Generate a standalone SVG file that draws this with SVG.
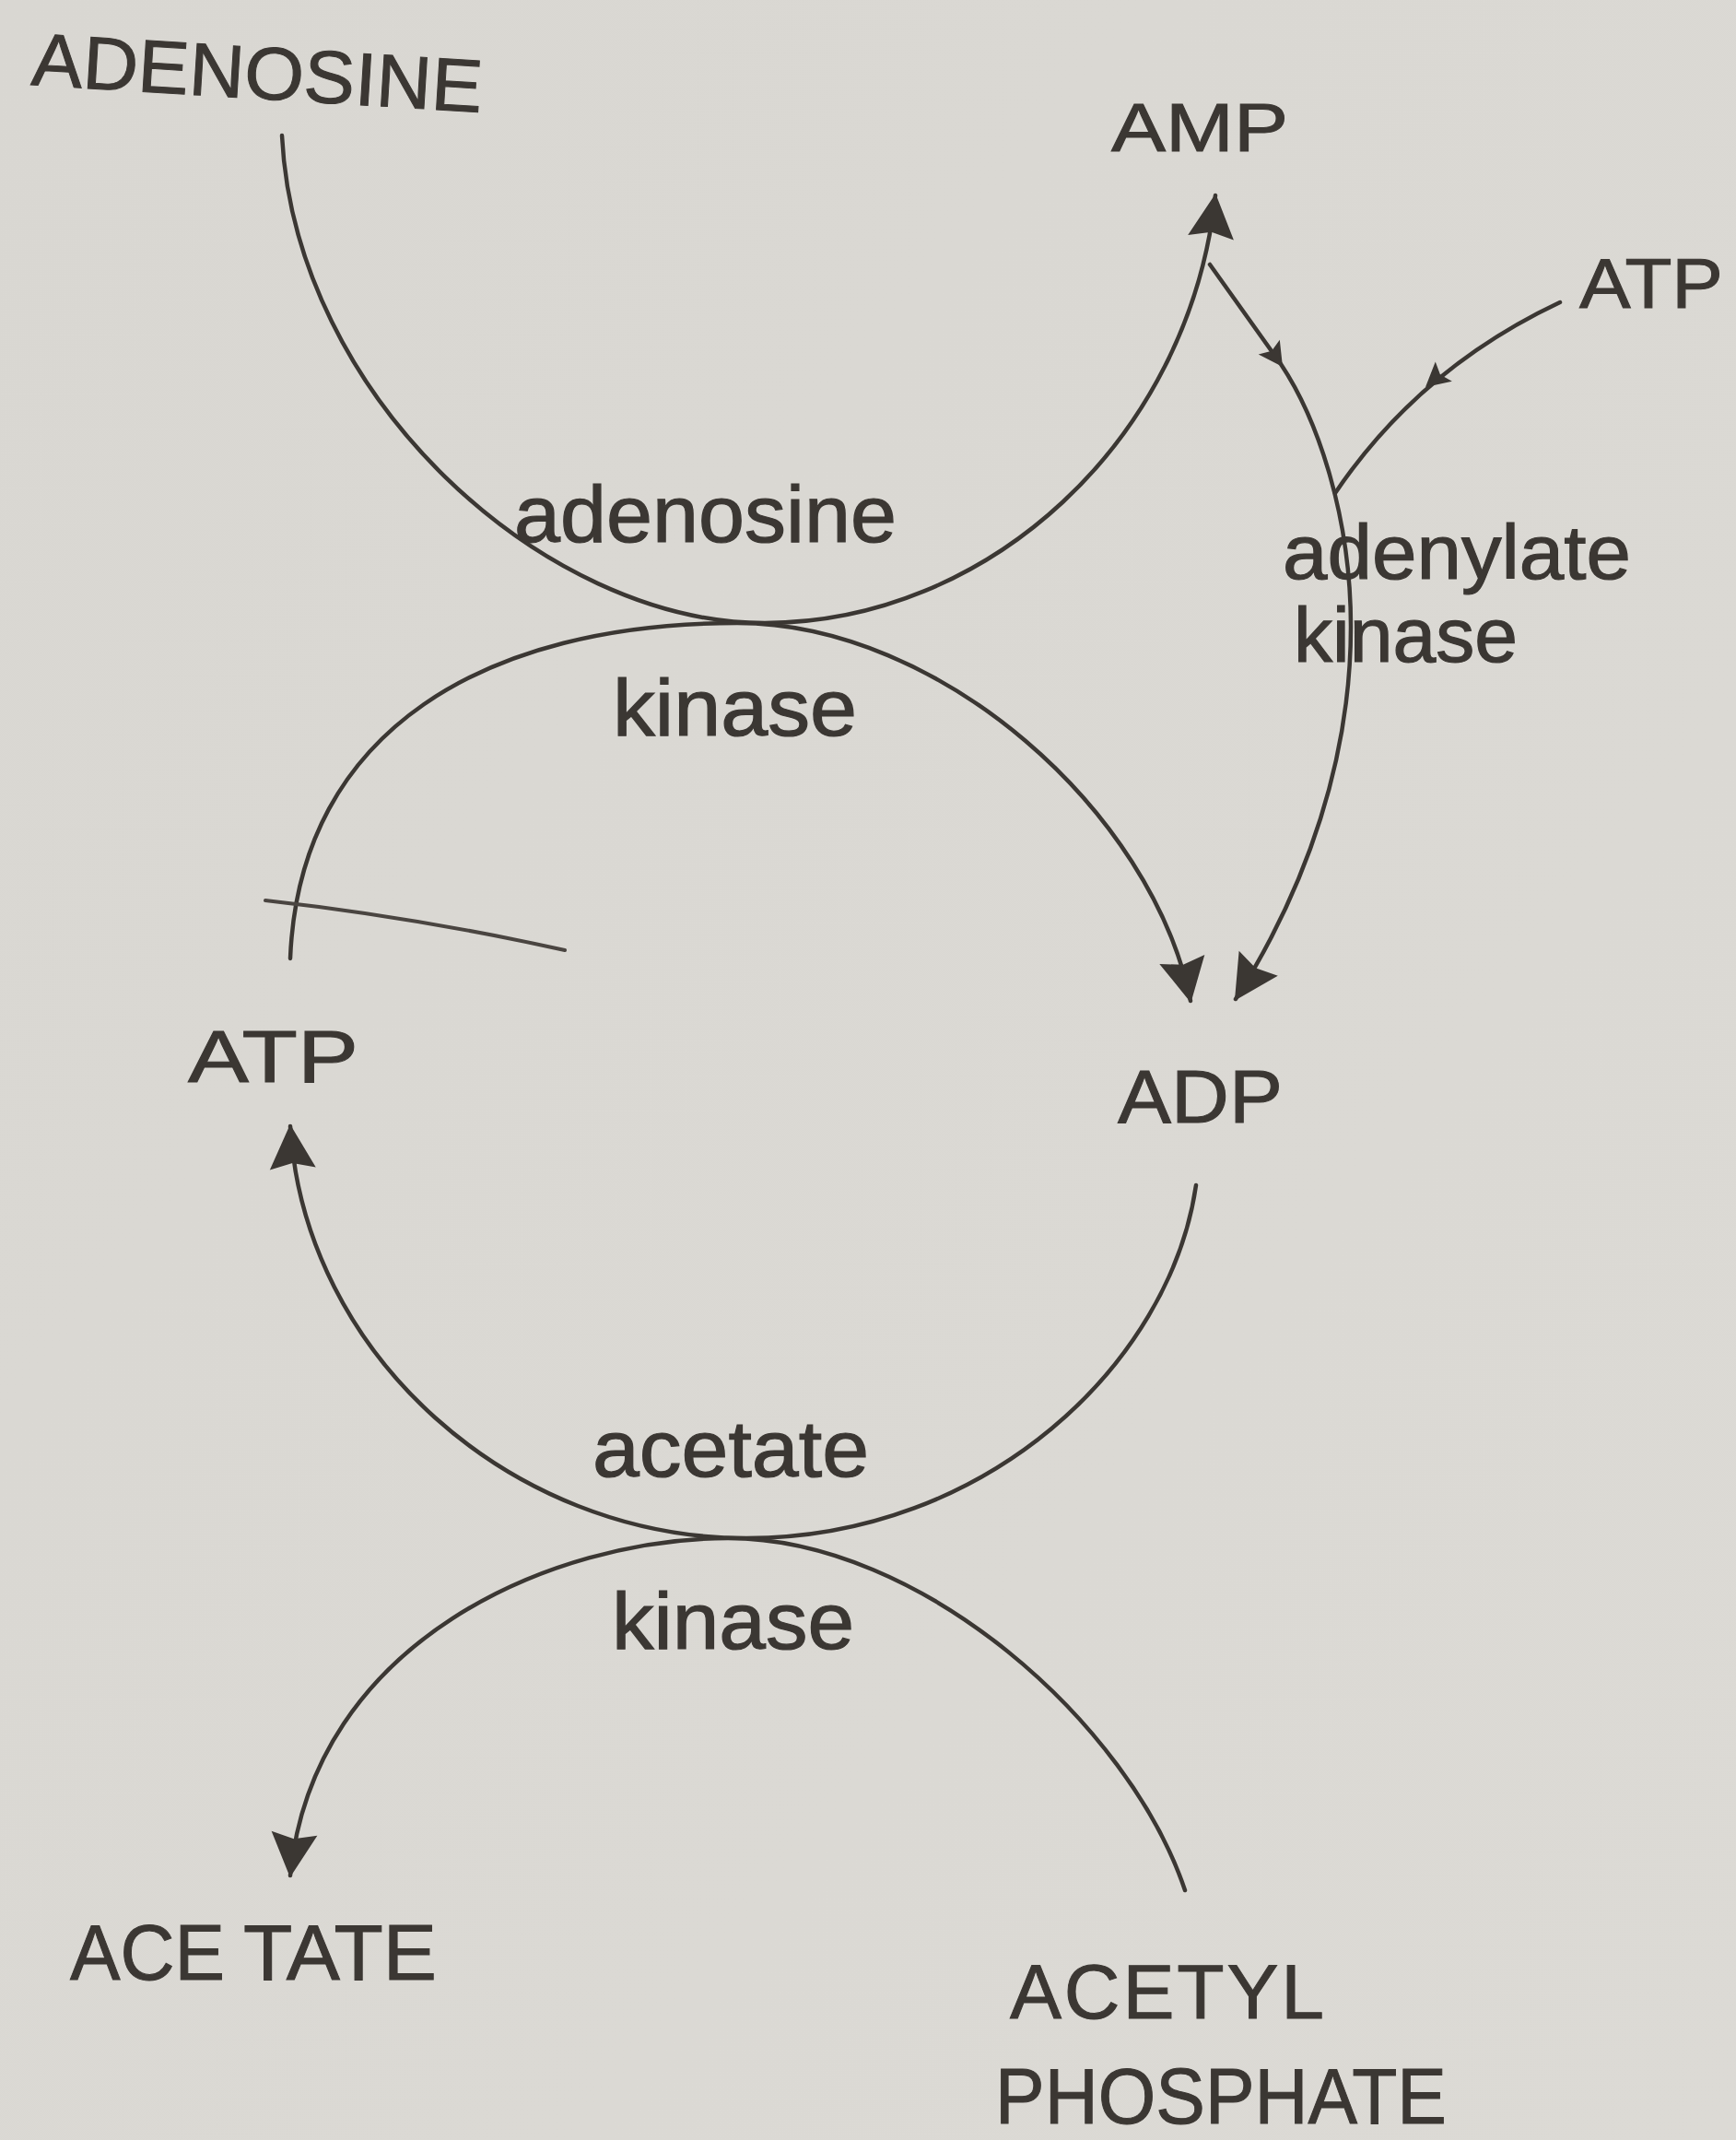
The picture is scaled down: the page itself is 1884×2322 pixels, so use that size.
<svg xmlns="http://www.w3.org/2000/svg" width="1884" height="2322" viewBox="0 0 1884 2322">
  <style>
    .bg { fill: url(#paper); }
    .ln { fill: none; stroke: #3b3733; stroke-width: 4.5; stroke-linecap: round; stroke-linejoin: round; }
    .cap { font-family: "Liberation Sans", "DejaVu Sans", Arial, sans-serif; fill: #3b3733; stroke: #3b3733; stroke-width: 1; }
    .low { font-family: "Liberation Sans", "DejaVu Sans", Arial, sans-serif; fill: #3b3733; stroke: #3b3733; stroke-width: 1.2; }
    .head { fill: #3b3733; }
  </style>
  <defs>
    <linearGradient id="paper" x1="0" y1="0" x2="1" y2="1">
      <stop offset="0" stop-color="#d9d7d2"/>
      <stop offset="1" stop-color="#dcdad5"/>
    </linearGradient>
    <marker id="arrow" markerUnits="userSpaceOnUse" markerWidth="60" markerHeight="60" viewBox="-50 -30 54 60" refX="0" refY="0" orient="auto">
      <path class="head" d="M2,0 L-46,-25 L-40,0 L-46,25 Z"/>
    </marker>
    <path id="small" class="head" d="M0,0 L-26,-14 L-21,0 L-26,14 Z"/>
  </defs>

  <rect class="bg" x="0" y="0" width="1884" height="2322"/>

  <g id="connectors">
    <!-- ADENOSINE -> AMP (adenosine kinase, upper arc) -->
    <path id="c-adenosine-amp" class="ln" d="M306,147 C320,430 590,676 830,676 C1070,676 1290,480 1319,212" marker-end="url(#arrow)"/>
    <!-- ATP -> ADP (adenosine kinase, lower arc) -->
    <path id="c-atp-adp" class="ln" d="M315,1040 C325,790 530,676 800,676 C1020,676 1250,880 1292,1086" marker-end="url(#arrow)"/>
    <!-- AMP -> ADP (adenylate kinase) -->
    <path id="c-amp-adp" class="ln" d="M1313,287 L1390,395 C1430,455 1466,560 1466,680 C1466,820 1420,960 1341,1084" marker-end="url(#arrow)"/>
    <use href="#small" transform="translate(1392,398) rotate(55.5)"/>
    <!-- ATP (top right) -> adenylate kinase -->
    <path id="c-atp2-ak" class="ln" d="M1693,328 Q1540,400 1449,535"/>
    <use href="#small" transform="translate(1547,420) rotate(139.7)"/>
    <!-- ADP -> ATP (acetate kinase, upper arc) -->
    <path id="c-adp-atp" class="ln" d="M1298,1286 C1270,1480 1070,1669 810,1669 C555,1669 330,1470 315,1222" marker-end="url(#arrow)"/>
    <!-- ACETYL PHOSPHATE -> ACETATE (acetate kinase, lower arc) -->
    <path id="c-acp-acetate" class="ln" d="M1286,2051 C1225,1870 1000,1669 790,1669 C600,1669 340,1780 315,2035" marker-end="url(#arrow)"/>
    <!-- stray stroke -->
    <path id="c-stroke" class="ln" style="stroke:#4a4541;stroke-width:4" d="M288,977 Q450,995 613,1031"/>
  </g>

  <g id="node-adenosine">
    <text class="cap" x="33" y="92" font-size="81" textLength="490" lengthAdjust="spacingAndGlyphs" transform="rotate(3.5 33 92)">ADENOSINE</text>
  </g>
  <g id="node-amp">
    <text class="cap" x="1206" y="164" font-size="74" textLength="192" lengthAdjust="spacingAndGlyphs">AMP</text>
  </g>
  <g id="node-atp-top">
    <text class="cap" x="1714" y="334" font-size="76" textLength="156" lengthAdjust="spacingAndGlyphs">ATP</text>
  </g>
  <g id="node-atp">
    <text class="cap" x="204" y="1174" font-size="80" textLength="185" lengthAdjust="spacingAndGlyphs">ATP</text>
  </g>
  <g id="node-adp">
    <text class="cap" x="1213" y="1218" font-size="81" textLength="179" lengthAdjust="spacingAndGlyphs">ADP</text>
  </g>
  <g id="node-acetate">
    <text class="cap" y="2148" font-size="86"><tspan x="76" textLength="168" lengthAdjust="spacingAndGlyphs">ACE</tspan><tspan x="264" textLength="210" lengthAdjust="spacingAndGlyphs">TATE</tspan></text>
  </g>
  <g id="node-acetyl-phosphate">
    <text class="cap" x="1096" y="2190" font-size="84" textLength="341" lengthAdjust="spacing">ACETYL</text>
    <text class="cap" x="1080" y="2304" font-size="86" textLength="490" lengthAdjust="spacingAndGlyphs">PHOSPHATE</text>
  </g>

  <g id="label-adenosine-kinase">
    <text class="low" x="558" y="588" font-size="88" textLength="415" lengthAdjust="spacingAndGlyphs">adenosine</text>
    <text class="low" x="665" y="798" font-size="88" textLength="265" lengthAdjust="spacingAndGlyphs">kinase</text>
  </g>
  <g id="label-adenylate-kinase">
    <text class="low" x="1392" y="628" font-size="84" textLength="378" lengthAdjust="spacingAndGlyphs">adenylate</text>
    <text class="low" x="1404" y="718" font-size="84" textLength="243" lengthAdjust="spacingAndGlyphs">kinase</text>
  </g>
  <g id="label-acetate-kinase">
    <text class="low" x="643" y="1602" font-size="88" textLength="300" lengthAdjust="spacingAndGlyphs">acetate</text>
    <text class="low" x="664" y="1789" font-size="88" textLength="263" lengthAdjust="spacingAndGlyphs">kinase</text>
  </g>
</svg>
